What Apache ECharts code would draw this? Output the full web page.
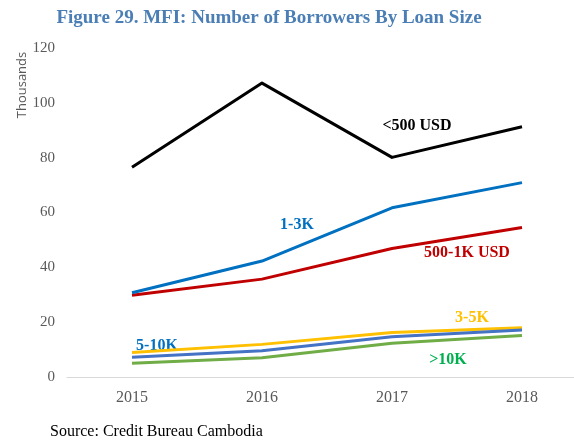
<!DOCTYPE html>
<html>
<head>
<meta charset="utf-8">
<script src="https://cdn.jsdelivr.net/npm/echarts@6/dist/echarts.min.js"></script>
<style>
  html, body { margin: 0; padding: 0; background: #fff; }
  #chart { width: 574px; height: 440px; }
</style>
</head>
<body>
<div id="chart"></div>
<script>
// Borrowers per loan-size bracket, in thousands
const years = ['2015', '2016', '2017', '2018'];
const under500 = [76.5, 107.2, 80.1, 91.3];
const from500to1k = [29.8, 35.7, 46.9, 54.5];
const from1to3k = [30.7, 42.3, 61.7, 70.9];
const from3to5k = [8.9, 11.9, 16.2, 18.0];
const from5to10k = [7.2, 9.6, 14.7, 17.1];
const over10k = [5.0, 7.0, 12.3, 15.1];
const yTicks = [0, 20, 40, 60, 80, 100, 120];

const serif = '"Liberation Serif", "Times New Roman", serif';

function line(name, data, color, z) {
  return {
    name: name,
    type: 'line',
    data: data,
    symbol: 'none',
    z: z,
    lineStyle: { color: color, width: 3, join: 'round' },
    itemStyle: { color: color }
  };
}

function tag(text, x, y, color) {
  return {
    type: 'text',
    x: x, y: y,
    style: {
      text: text,
      fill: color,
      font: 'bold 16px ' + serif,
      align: 'center',
      verticalAlign: 'middle'
    }
  };
}

const chart = echarts.init(document.getElementById('chart'), null, { renderer: 'canvas' });
chart.setOption({
  animation: false,
  backgroundColor: '#ffffff',
  title: {
    text: 'Figure 29. MFI: Number of Borrowers By Loan Size',
    left: 264, top: 4,
    textAlign: 'center',
    textStyle: { fontFamily: serif, fontWeight: 'bold', fontSize: 19, color: '#4A7EB5' }
  },
  grid: { left: 67, top: 48, width: 520, height: 329, containLabel: false, outerBoundsMode: 'none' },
  xAxis: {
    type: 'category',
    data: years,
    boundaryGap: true,
    axisLine: { lineStyle: { color: '#D9D9D9', width: 1 } },
    axisTick: { show: false },
    axisLabel: { fontFamily: serif, fontSize: 16, color: '#595959', margin: 13 }
  },
  yAxis: {
    type: 'value',
    min: yTicks[0],
    max: yTicks[yTicks.length - 1],
    interval: 20,
    axisLine: { show: false },
    axisTick: { show: false },
    splitLine: { show: false },
    axisLabel: { fontFamily: serif, fontSize: 15, color: '#595959', margin: 12 }
  },
  series: [
    line('<500 USD', under500, '#000000', 6),
    line('1-3K', from1to3k, '#0070C0', 5),
    line('500-1K USD', from500to1k, '#C00000', 4),
    line('3-5K', from3to5k, '#FFC000', 3),
    line('5-10K', from5to10k, '#4472C4', 4),
    line('>10K', over10k, '#70AD47', 2)
  ],
  graphic: [
    {
      type: 'text',
      x: 22, y: 85,
      rotation: Math.PI / 2,
      style: {
        text: 'Thousands',
        fill: '#595959',
        font: '13px "Open Sans", "Liberation Sans", sans-serif',
        align: 'center',
        verticalAlign: 'middle'
      }
    },
    tag('<500 USD', 417, 126, '#000000'),
    tag('1-3K', 297, 225, '#0070C0'),
    tag('500-1K USD', 467, 253, '#C00000'),
    tag('3-5K', 472, 318, '#FFC000'),
    tag('5-10K', 157, 346, '#0070C0'),
    tag('>10K', 448, 360, '#00B050'),
    {
      type: 'text',
      x: 50, y: 432,
      style: {
        text: 'Source: Credit Bureau Cambodia',
        fill: '#000000',
        font: '16px ' + serif,
        align: 'left',
        verticalAlign: 'middle'
      }
    }
  ]
});
</script>
</body>
</html>
